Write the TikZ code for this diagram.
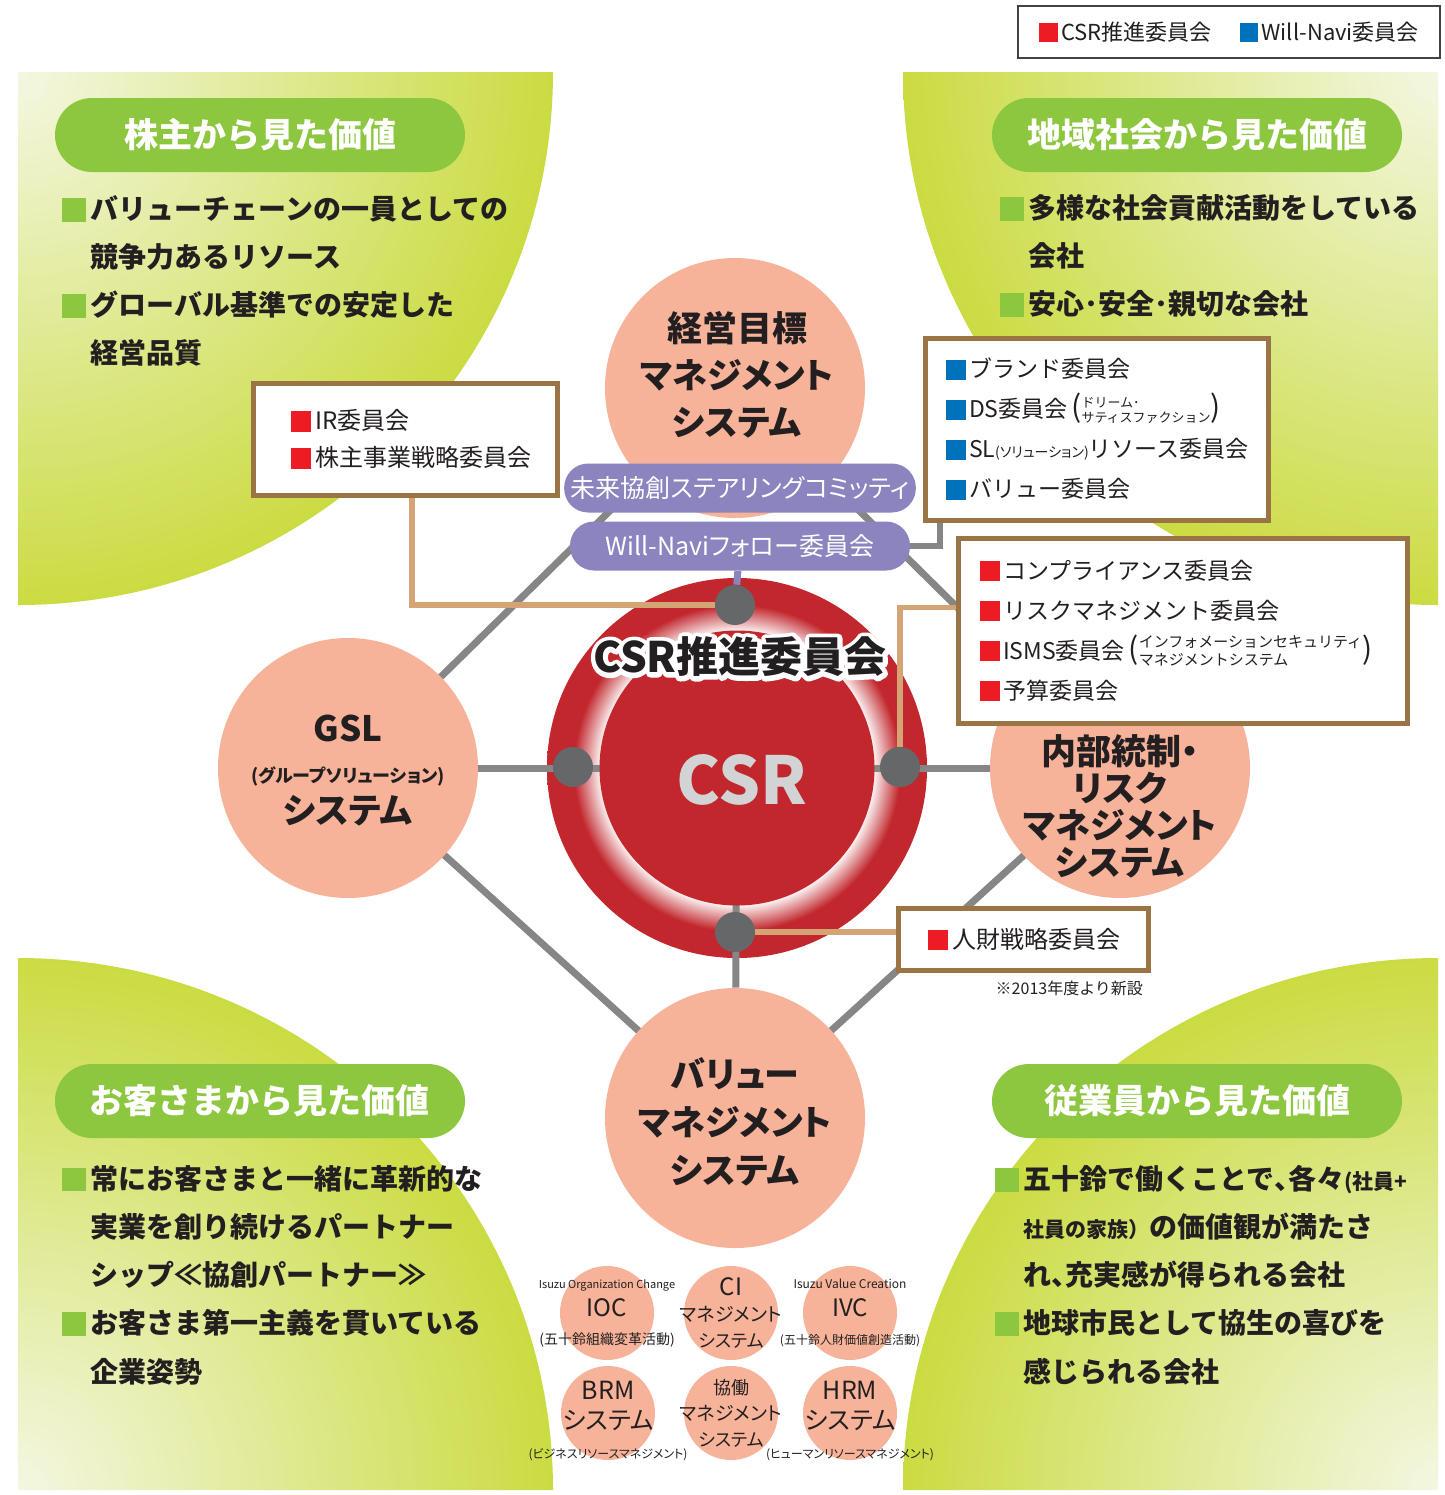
\documentclass[tikz,border=0pt]{standalone}
\usepackage{fontspec}
\setmainfont{Noto Sans CJK JP}
\newfontfamily\propfont{Noto Sans CJK JP}[RawFeature=+palt]
\usetikzlibrary{positioning}
\definecolor{salmon}{HTML}{F7B399}
\definecolor{csrred}{HTML}{C1272D}
\definecolor{dotgray}{HTML}{666769}
\definecolor{linegray}{HTML}{868686}
\definecolor{lilac}{HTML}{8B84BE}
\definecolor{tan}{HTML}{D5A474}
\definecolor{frame}{HTML}{9B7446}
\definecolor{leaf}{HTML}{8DC63F}
\definecolor{sqred}{HTML}{ED1C24}
\definecolor{sqblue}{HTML}{0072BC}
\definecolor{glowpale}{HTML}{F4F7E2}
\definecolor{glowgreen}{HTML}{C9DA3A}
\definecolor{csrgray}{HTML}{D1D3D4}
\definecolor{ink}{HTML}{231F20}
\pgfdeclareradialshading{glow}{\pgfpoint{0bp}{0bp}}{color(0bp)=(glowpale); color(25bp)=(glowgreen); color(50bp)=(glowgreen)}
\pgfdeclareradialshading{ringglow}{\pgfpoint{0bp}{0bp}}{color(0bp)=(white); color(18.1bp)=(white!92!csrred); color(21.5bp)=(csrred); color(50bp)=(csrred)}
\pgfdeclarelayer{back}
\pgfdeclarelayer{wires}
\pgfsetlayers{back,wires,main}
% coloured square in front of each item
\newcommand\sqm[1]{\textcolor{#1}{\rule[-0.08em]{0.85em}{0.85em}}\kern0.15em}
\newcommand\ind{\hspace*{1em}}
% two small lines between round brackets
\newcommand\smallpar[3]{{\fontsize{15}{15}\selectfont(}$\vcenter{\hbox{\fontsize{#1}{#1}\selectfont\renewcommand\arraystretch{1.2}\begin{tabular}{@{}l@{}}#2\\#3\end{tabular}}}${\fontsize{15}{15}\selectfont)}}
% white rim round a text (stroked copy underneath)
\newcommand\csrhalo[1]{\makebox[0pt][l]{\special{pdf:literal direct q 1 Tr 1 1 1 RG 4.6 w 1 j}#1\special{pdf:literal direct Q}}#1}

\begin{document}
\begin{tikzpicture}[x=0.5pt,y=-0.5pt, every node/.style={text=ink},
  bigc/.style={circle,fill=salmon,minimum size=130pt,inner sep=0pt},
  smallc/.style={circle,fill=salmon,minimum size=47pt,inner sep=0pt},
  bigt/.style={align=center,font=\propfont\bfseries\fontsize{17.5}{23.5}\selectfont},
  stxt/.style={align=center,inner sep=0pt,font=\propfont\fontsize{9.5}{13}\selectfont},
  ttl/.style={fill=leaf,rounded corners=18.5pt,minimum width=205pt,minimum height=37pt,text=white,font=\bfseries\fontsize{17}{20}\selectfont},
  blt/.style={anchor=west,align=left,inner sep=0pt,font=\bfseries\fontsize{14}{24.1}\selectfont},
  pill/.style={fill=lilac,rounded corners=12pt,minimum width=170pt,minimum height=24.5pt,text=white,font=\propfont\fontsize{12.5}{14}\selectfont},
  cbox/.style={draw=frame,line width=2.5pt,fill=white,align=left,font=\fontsize{11.5}{20}\selectfont},
  dot/.style={circle,fill=dotgray,minimum size=20pt,inner sep=0pt},
  gline/.style={draw=linegray,line width=3.5pt},
  tline/.style={draw=tan,line width=2.6pt},
  pline/.style={draw=lilac,line width=3.5pt}]
\useasboundingbox (0,0) rectangle (1445,1495);

% green quarters
\begin{pgfonlayer}{back}
\fill[white] (0,0) rectangle (1445,1495);
\begin{scope}
\clip (18,72) -- (553,72) .. controls (553,366) and (313.5,605) .. (18,605) -- cycle;
\shade[shading=glow] (18,72) circle (280pt);
\end{scope}
\begin{scope}
\clip (1438,72) -- (903,72) .. controls (903,366) and (1142.5,605) .. (1438,605) -- cycle;
\shade[shading=glow] (1438,72) circle (280pt);
\end{scope}
\begin{scope}
\clip (18,1490) -- (18,958) .. controls (313.5,958) and (553,1196) .. (553,1490) -- cycle;
\shade[shading=glow] (18,1490) circle (280pt);
\end{scope}
\begin{scope}
\clip (1438,1490) -- (1438,958) .. controls (1142.5,958) and (903,1196) .. (903,1490) -- cycle;
\shade[shading=glow] (1438,1490) circle (280pt);
\end{scope}
\end{pgfonlayer}

% legend
\node[draw=ink!85,line width=0.6pt,minimum width=211pt,minimum height=26pt,font=\fontsize{11}{13}\selectfont] (legend) at (1229,32) {\sqm{sqred}CSR推進委員会\hspace{14pt}\sqm{sqblue}Will-Navi委員会};

% stakeholder values
\node[ttl] (holder) at (260,135) {株主から見た価値};
\node[ttl] (region) at (1197,135) {地域社会から見た価値};
\node[ttl] (customer) at (260,1101) {お客さまから見た価値};
\node[ttl] (staff) at (1197,1101) {従業員から見た価値};
\node[blt] (holderlist) at (62,281) {\sqm{leaf}バリューチェーンの一員としての\\\ind 競争力あるリソース\\\sqm{leaf}グローバル基準での安定した\\\ind 経営品質};
\node[blt] (regionlist) at (1000,256) {\sqm{leaf}多様な社会貢献活動をしている\\\ind 会社\\\sqm{leaf}安心･安全･親切な会社};
\node[blt] (customerlist) at (62,1275) {\sqm{leaf}常にお客さまと一緒に革新的な\\\ind 実業を創り続けるパートナー\\\ind シップ≪協創パートナー≫\\\sqm{leaf}お客さま第一主義を貫いている\\\ind 企業姿勢};
\node[blt] (stafflist) at (995,1275) {\sqm{leaf}五十鈴で働くことで{\propfont 、}各々{\fontsize{10.5}{12}\selectfont(社員+}\\\ind{\fontsize{10.5}{12}\selectfont 社員の家族）}の価値観が満たさ\\\ind れ{\propfont 、}充実感が得られる会社\\\sqm{leaf}地球市民として協生の喜びを\\\ind 感じられる会社};

% management systems
\node[bigc] (mgmt) at (735,388) {};
\node[bigc] (gsl) at (348,768) {};
\node[bigc] (irm) at (1120,768) {};
\node[bigc] (value) at (735,1118) {};
\begin{pgfonlayer}{wires}
\draw[gline] (mgmt.center) -- (gsl.center) -- (value.center) -- (irm.center) -- (mgmt.center);
\end{pgfonlayer}
\node[bigt] (mgmt-l) at (737,375) {経営目標\\マネジメント\\システム};
\node[bigt,font=\propfont\bfseries\fontsize{17.5}{20.5}\selectfont] (gsl-l) at (348,771) {GSL\\{\fontsize{9}{10}\selectfont(グループソリューション)}\\システム};
\node[bigt,font=\propfont\bfseries\fontsize{17.5}{18.5}\selectfont] (irm-l) at (1120,806) {内部統制・\\リスク\\マネジメント\\システム};
\node[bigt,font=\propfont\bfseries\fontsize{17.5}{24}\selectfont] (value-l) at (735,1122) {バリュー\\マネジメント\\システム};

% value management tools
\node[smallc] (ioc) at (607,1313) {};
\node[smallc] (ci) at (731,1313) {};
\node[smallc] (ivc) at (850,1313) {};
\node[smallc] (brm) at (608,1413) {};
\node[smallc] (kyodo) at (731,1413) {};
\node[smallc] (hrm) at (850,1413) {};
\node[stxt,font=\fontsize{12}{14}\selectfont] (ioc-l) at (ioc) {{\fontsize{5.5}{6}\selectfont Isuzu Organization Change}\\IOC\\{\fontsize{7}{8}\selectfont(五十鈴組織変革活動)}};
\node[stxt] (ci-l) at (ci) {{\fontsize{12}{13}\selectfont CI}\\マネジメント\\{\fontsize{9}{10}\selectfont システム}};
\node[stxt,font=\fontsize{12}{14}\selectfont] (ivc-l) at (ivc) {{\fontsize{6}{6}\selectfont Isuzu Value Creation}\\IVC\\{\fontsize{6}{7}\selectfont(五十鈴人財価値創造活動)}};
\node[stxt,font=\propfont\fontsize{12.5}{14.6}\selectfont] (brm-l) at ([yshift=-4pt]brm) {BRM\\システム\\{\fontsize{6}{7}\selectfont(ビジネスリソースマネジメント)}};
\node[stxt] (kyodo-l) at (kyodo) {{\fontsize{9}{10}\selectfont 協働}\\マネジメント\\{\fontsize{9}{10}\selectfont システム}};
\node[stxt,font=\propfont\fontsize{12.5}{14.6}\selectfont] (hrm-l) at ([yshift=-4pt]hrm) {HRM\\システム\\{\fontsize{6}{7}\selectfont(ヒューマンリソースマネジメント)}};

% CSR core
\node[circle,minimum size=190pt,inner sep=0pt,shading=ringglow] (csr) at (737,768) {};
\draw[gline] (gsl) -- (irm);
\draw[gline] (csr.center) -- (value);
\node[circle,fill=csrred,minimum size=137.5pt,inner sep=0pt] (core) at (737,768) {};
\node[text=csrgray,font=\bfseries\fontsize{33}{36}\selectfont] (core-l) at (742,780) {CSR};
\node[font=\bfseries\fontsize{21}{24}\selectfont] (csr-l) at (740,657) {\csrhalo{CSR推進委員会}};

% committees
\node[pill] (future) at (740,488) {未来協創ステアリングコミッティ};
\node[pill] (follow) at (740,546) {Will-Naviフォロー委員会};
\node[cbox,minimum width=152pt,minimum height=56pt,inner xsep=19pt,text width=114pt,font=\fontsize{12}{18.5}\selectfont] (irbox) at (405,439) {\sqm{sqred}IR委員会\\\sqm{sqred}株主事業戦略委員会};
\node[cbox,minimum width=171.5pt,minimum height=91pt,inner xsep=10.5pt,text width=150.5pt] (wnbox) at (1096.5,429) {\sqm{sqblue}ブランド委員会\\\sqm{sqblue}DS委員会\,\smallpar{6.5}{ドリーム･}{サティスファクション}\\\sqm{sqblue}SL{\propfont\fontsize{7}{8}\selectfont(ソリューション)}リソース委員会\\\sqm{sqblue}バリュー委員会};
\node[cbox,minimum width=224.5pt,minimum height=92.5pt,inner xsep=11pt,text width=202.5pt] (riskbox) at (1182.5,630.5) {\sqm{sqred}コンプライアンス委員会\\\sqm{sqred}リスクマネジメント委員会\\\sqm{sqred}ISMS委員会\,\smallpar{7.5}{インフォメーションセキュリティ}{マネジメントシステム}\\\sqm{sqred}予算委員会};
\node[cbox,minimum width=125pt,minimum height=31pt,inner xsep=15pt,text width=95pt,font=\fontsize{12}{14}\selectfont] (hrbox) at (1023,939) {\sqm{sqred}人財戦略委員会};
\node[anchor=east,font=\fontsize{8}{10}\selectfont] (newnote) at (1150,988) {※2013年度より新設};

% hubs on the ring
\node[dot] (dtop) at (735,605) {};
\node[dot] (dleft) at (573,767) {};
\node[dot] (dright) at (900,767) {};
\node[dot] (dbottom) at (735,932) {};
\draw[pline] (follow) -- (dtop);
\draw[gline,line width=3pt] ([xshift=8.5pt]wnbox.south west) |- (follow.east);
\draw[tline] ([xshift=3.5pt]irbox.south) |- (dtop);
\draw[tline] ([yshift=11.5pt]riskbox.west) -| (dright);
\draw[tline] (hrbox.west |- dbottom) -- (dbottom);
\end{tikzpicture}
\end{document}
